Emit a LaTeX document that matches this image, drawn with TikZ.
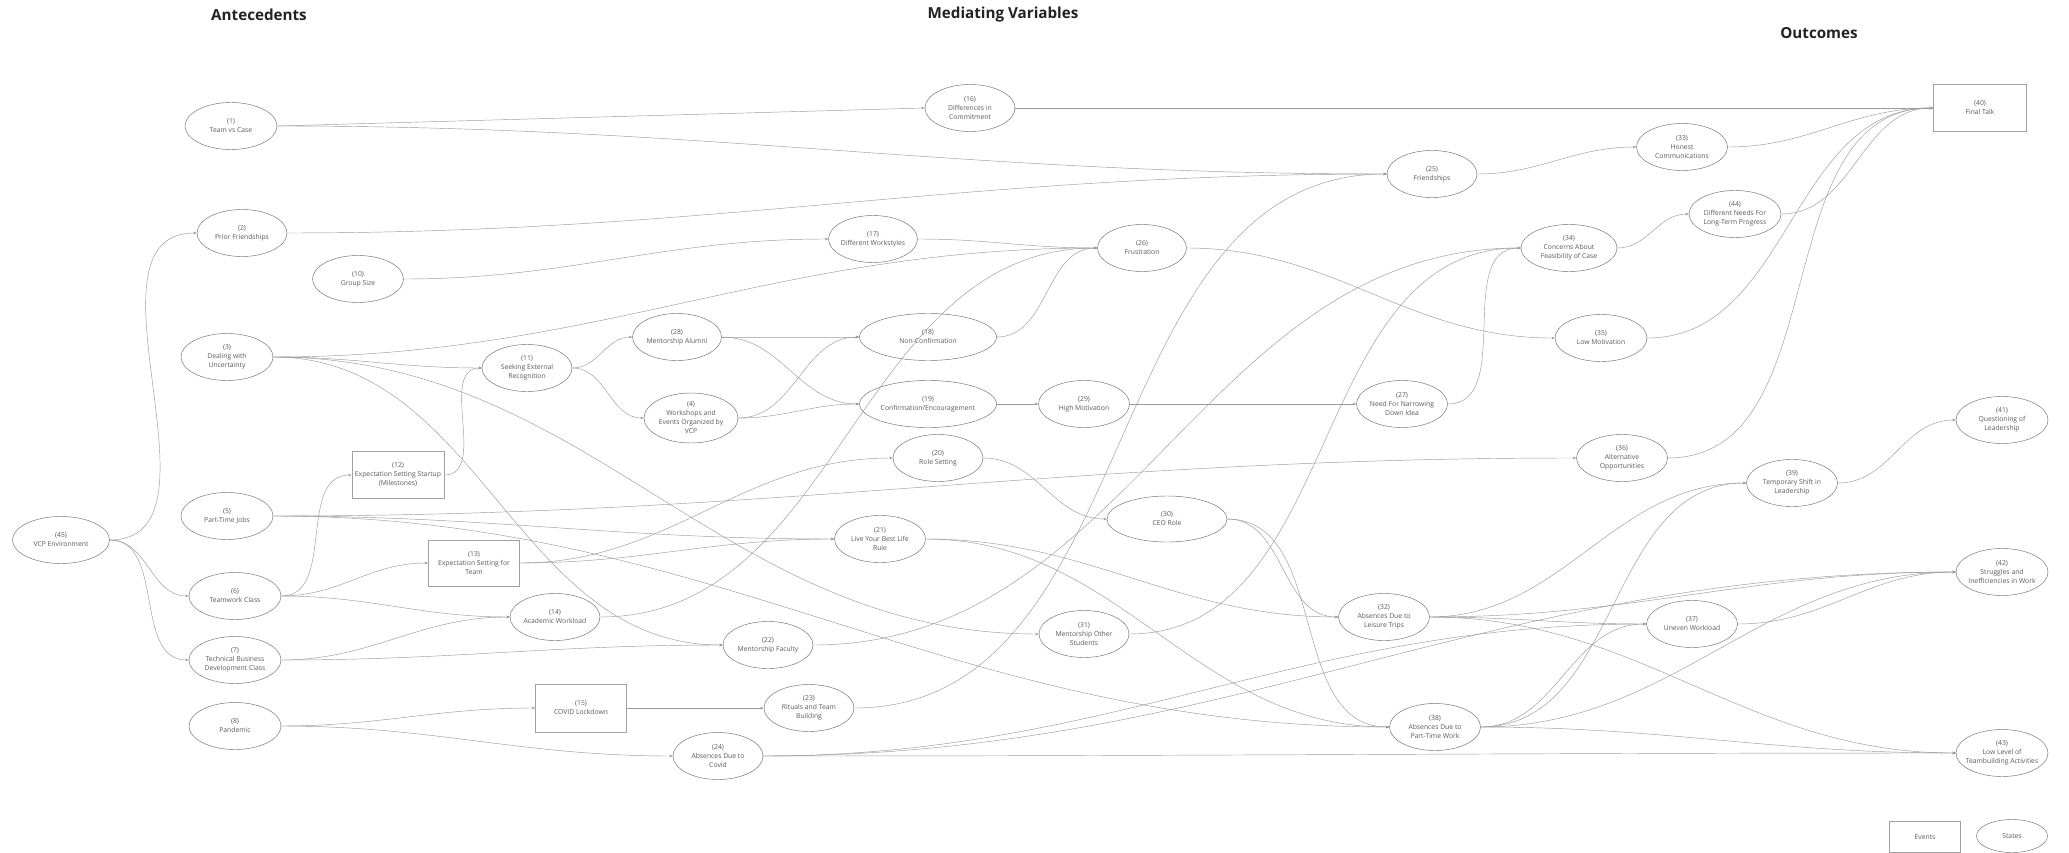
\documentclass[tikz,border=0pt]{standalone}
\usepackage{fontspec}
\setmainfont{Open Sans}
\usetikzlibrary{shapes.geometric,arrows.meta}
\definecolor{edgec}{HTML}{9A9A9A}
\definecolor{bordc}{HTML}{6E6E6E}
\definecolor{rectc}{HTML}{A0A0A0}
\definecolor{txtc}{HTML}{5A5A5A}
\definecolor{ttlc}{HTML}{222222}
\begin{document}
\begin{tikzpicture}[x=1pt,y=-1pt,
  st/.style={ellipse, draw=bordc, line width=0.45pt, minimum width=#1, minimum height=47pt,
     inner xsep=-15pt, inner ysep=0pt, align=center, font=\fontsize{6.8}{9}\selectfont, text=txtc},
  st/.default=91pt,
  ev/.style={rectangle, draw=rectc, line width=0.8pt, minimum width=92pt, minimum height=47pt,
     inner sep=0pt, align=center, font=\fontsize{6.8}{9}\selectfont, text=txtc},
  ttl/.style={font=\fontsize{15.2}{18}\selectfont\bfseries, text=ttlc, inner sep=0pt},
  ed/.style={draw=edgec, line width=0.45pt, -{Stealth[length=3.5pt,width=2.6pt]}}
]
\useasboundingbox (0,0) rectangle (2069,853);
\fill[white] (0,0) rectangle (2069,853);

% titles
\node[ttl] (tA) at (259,15) {Antecedents};
\node[ttl] (tM) at (1003,15) {Mediating Variables};
\node[ttl] (tO) at (1819,33) {Outcomes};

% antecedents
\node[st=92pt] (n1) at (231,126) {(1)\\Team vs Case};
\node[st=90pt] (n2) at (242,233) {(2)\\Prior Friendships};
\node[st=91pt] (n10) at (358,279) {(10)\\Group Size};
\node[st=92pt] (n3) at (227,357) {(3)\\Dealing with\\Uncertainty};
\node[st=92pt] (n5) at (227,516) {(5)\\Part-Time Jobs};
\node[st=97pt] (n45) at (61,540) {(45)\\VCP Environment};
\node[ev] (n12) at (398,475) {(12)\\Expectation Setting Startup\\(Milestones)};
\node[ev, minimum width=91pt, minimum height=46pt] (n13) at (474,563) {(13)\\Expectation Setting for\\Team};
\node[st=92pt] (n6) at (235,596) {(6)\\Teamwork Class};
\node[st=92pt] (n7) at (235,660) {(7)\\Technical Business\\Development Class};
\node[st=92pt] (n8) at (235,726) {(8)\\Pandemic};

% mediating
\node[st=90pt] (n11) at (527,368) {(11)\\Seeking External\\Recognition};
\node[st=89pt] (n28) at (677,337) {(28)\\Mentorship Alumni};
\node[st=94pt, minimum height=50pt] (n4) at (691,418) {(4)\\Workshops and\\Events Organized by\\VCP};
\node[st=137pt] (n18) at (928,337) {(18)\\Non-Confirmation};
\node[st=137pt] (n19) at (928,404) {(19)\\Confirmation/Encouragement};
\node[st=90pt] (n20) at (938,458) {(20)\\Role Setting};
\node[st=91pt] (n21) at (880,539) {(21)\\Live Your Best Life\\Rule};
\node[st=89pt] (n17) at (873,239) {(17)\\Different Workstyles};
\node[st=90pt] (n16) at (970,108) {(16)\\Differences in\\Commitment};
\node[st=89pt] (n26) at (1142,248) {(26)\\Frustration};
\node[st=90pt] (n25) at (1432,174) {(25)\\Friendships};
\node[st=96pt] (n34) at (1569,248) {(34)\\Concerns About\\Feasibility of Case};
\node[st=91pt] (n29) at (1084,404) {(29)\\High Motivation};
\node[st=91pt] (n27) at (1402,404) {(27)\\Need For Narrowing\\Down Idea};
\node[st=92pt] (n35) at (1601,338) {(35)\\Low Motivation};
\node[st=120pt, minimum height=46pt] (n30) at (1167,519) {(30)\\CEO Role};
\node[st=91pt] (n36) at (1622,458) {(36)\\Alternative\\Opportunities};
\node[st=91pt] (n32) at (1384,617) {(32)\\Absences Due to\\Leisure Trips};
\node[st=91pt] (n38) at (1435,727) {(38)\\Absences Due to\\Part-Time Work};
\node[st=90pt] (n31) at (1084,634) {(31)\\Mentorship Other\\Students};
\node[st=90pt] (n14) at (555,617) {(14)\\Academic Workload};
\node[st=90pt] (n22) at (768,645) {(22)\\Mentorship Faculty};
\node[ev, minimum width=91pt, minimum height=48pt] (n15) at (581,708) {(15)\\COVID Lockdown};
\node[st=90pt] (n23) at (809,708) {(23)\\Rituals and Team\\Building};
\node[st=90pt] (n24) at (718,756) {(24)\\Absences Due to\\Covid};

% outcomes
\node[st=91pt] (n33) at (1682,147) {(33)\\Honest\\Communications};
\node[st=92pt] (n44) at (1735,214) {(44)\\Different Needs For\\Long-Term Progress};
\node[ev, minimum width=93pt] (n40) at (1980,108) {(40)\\Final Talk};
\node[st=91pt] (n39) at (1792,483) {(39)\\Temporary Shift in\\Leadership};
\node[st=92pt] (n41) at (2002,420) {(41)\\Questioning of\\Leadership};
\node[st=92pt] (n42) at (2002,572) {(42)\\Struggles and\\Inefficiencies in Work};
\node[st=92pt] (n43) at (2002,753) {(43)\\Low Level of\\Teambuilding Activities};
\node[st=91pt] (n37) at (1692,624) {(37)\\Uneven Workload};

% legend
\node[ev, minimum width=71pt, minimum height=31pt] (lgE) at (1925,837) {Events};
\node[st=71pt, minimum height=33pt] (lgS) at (2012,836) {States};

% connectors
\draw[ed] (n45.east) .. controls +(125,0) and +(-125,0) .. (n2.west);
\draw[ed] (n45.east) .. controls +(38,0) and +(-38,0) .. (n6.west);
\draw[ed] (n45.east) .. controls +(56,0) and +(-56,0) .. (n7.west);
\draw[ed] (n1.east) -- (n16.west);
\draw[ed] (n1.east) .. controls +(433,0) and +(-433,0) .. (n25.west);
\draw[ed] (n2.east) .. controls +(429,0) and +(-429,0) .. (n25.west);
\draw[ed] (n10.east) .. controls +(166,0) and +(-166,0) .. (n17.west);
\draw[ed] (n3.east) .. controls +(324,0) and +(-324,0) .. (n26.west);
\draw[ed] (n3.east) .. controls +(82,0) and +(-82,0) .. (n11.west);
\draw[ed] (n3.east) .. controls +(318,0) and +(-318,0) .. (n31.west);
\draw[ed] (n3.east) .. controls +(208,0) and +(-208,0) .. (n22.west);
\draw[ed] (n5.east) .. controls +(508,0) and +(-508,0) .. (n36.west);
\draw[ed] (n5.east) .. controls +(219,0) and +(-219,0) .. (n21.west);
\draw[ed] (n5.east) .. controls +(443,0) and +(-443,0) .. (n38.west);
\draw[ed] (n6.east) .. controls +(55,0) and +(-55,0) .. (n12.west);
\draw[ed] (n6.east) .. controls +(59,0) and +(-59,0) .. (n13.west);
\draw[ed] (n6.east) .. controls +(89,0) and +(-89,0) .. (n14.west);
\draw[ed] (n7.east) .. controls +(91,0) and +(-91,0) .. (n14.west);
\draw[ed] (n7.east) .. controls +(172,0) and +(-172,0) .. (n22.west);
\draw[ed] (n8.east) .. controls +(99,0) and +(-99,0) .. (n15.west);
\draw[ed] (n8.east) .. controls +(153,0) and +(-153,0) .. (n24.west);
\draw[ed] (n12.east) .. controls +(44,0) and +(-44,0) .. (n11.west);
\draw[ed] (n13.east) .. controls +(151,0) and +(-151,0) .. (n20.west);
\draw[ed] (n13.east) .. controls +(123,0) and +(-123,0) .. (n21.west);
\draw[ed] (n11.east) .. controls +(26,0) and +(-26,0) .. (n28.west);
\draw[ed] (n11.east) .. controls +(34,0) and +(-34,0) .. (n4.west);
\draw[ed] (n28.east) .. controls +(54,0) and +(-54,0) .. (n18.west);
\draw[ed] (n28.east) .. controls +(60,0) and +(-60,0) .. (n19.west);
\draw[ed] (n4.east) .. controls +(57,0) and +(-57,0) .. (n18.west);
\draw[ed] (n4.east) .. controls +(48,0) and +(-48,0) .. (n19.west);
\draw[ed] (n18.east) .. controls +(52,0) and +(-52,0) .. (n26.west);
\draw[ed] (n14.east) .. controls +(241,0) and +(-241,0) .. (n26.west);
\draw[ed] (n17.east) .. controls +(71,0) and +(-71,0) .. (n26.west);
\draw[ed] (n19.east) -- (n29.west);
\draw[ed] (n29.east) -- (n27.west);
\draw[ed] (n16.east) -- (n40.west);
\draw[ed] (n26.east) .. controls +(148,0) and +(-148,0) .. (n35.west);
\draw[ed] (n25.east) .. controls +(63,0) and +(-63,0) .. (n33.west);
\draw[ed] (n33.east) .. controls +(82,0) and +(-82,0) .. (n40.west);
\draw[ed] (n44.east) .. controls +(72,0) and +(-72,0) .. (n40.west);
\draw[ed] (n35.east) .. controls +(143,0) and +(-143,0) .. (n40.west);
\draw[ed] (n36.east) .. controls +(171,0) and +(-171,0) .. (n40.west);
\draw[ed] (n34.east) .. controls +(31,0) and +(-31,0) .. (n44.west);
\draw[ed] (n27.east) .. controls +(67,0) and +(-67,0) .. (n34.west);
\draw[ed] (n22.east) .. controls +(317,0) and +(-317,0) .. (n34.west);
\draw[ed] (n31.east) .. controls +(215,0) and +(-215,0) .. (n34.west);
\draw[ed] (n23.east) .. controls +(294,0) and +(-294,0) .. (n25.west);
\draw[ed] (n15.east) -- (n23.west);
\draw[ed] (n20.east) .. controls +(54,0) and +(-54,0) .. (n30.west);
\draw[ed] (n30.east) .. controls +(58,0) and +(-58,0) .. (n32.west);
\draw[ed] (n30.east) .. controls +(103,0) and +(-103,0) .. (n38.west);
\draw[ed] (n21.east) .. controls +(164,0) and +(-164,0) .. (n32.west);
\draw[ed] (n21.east) .. controls +(195,0) and +(-195,0) .. (n38.west);
\draw[ed] (n32.east) .. controls +(134,0) and +(-134,0) .. (n39.west);
\draw[ed] (n32.east) .. controls +(207,0) and +(-207,0) .. (n42.west);
\draw[ed] (n32.east) .. controls +(85,0) and +(-85,0) .. (n37.west);
\draw[ed] (n32.east) .. controls +(212,0) and +(-212,0) .. (n43.west);
\draw[ed] (n38.east) .. controls +(141,0) and +(-141,0) .. (n39.west);
\draw[ed] (n38.east) .. controls +(76,0) and +(-76,0) .. (n37.west);
\draw[ed] (n38.east) .. controls +(195,0) and +(-195,0) .. (n42.west);
\draw[ed] (n38.east) .. controls +(186,0) and +(-186,0) .. (n43.west);
\draw[ed] (n24.east) .. controls +(471,0) and +(-471,0) .. (n42.west);
\draw[ed] (n24.east) .. controls +(349,0) and +(-349,0) .. (n37.west);
\draw[ed] (n24.east) .. controls +(465,0) and +(-465,0) .. (n43.west);
\draw[ed] (n37.east) .. controls +(88,0) and +(-88,0) .. (n42.west);
\draw[ed] (n39.east) .. controls +(53,0) and +(-53,0) .. (n41.west);
\end{tikzpicture}
\end{document}
